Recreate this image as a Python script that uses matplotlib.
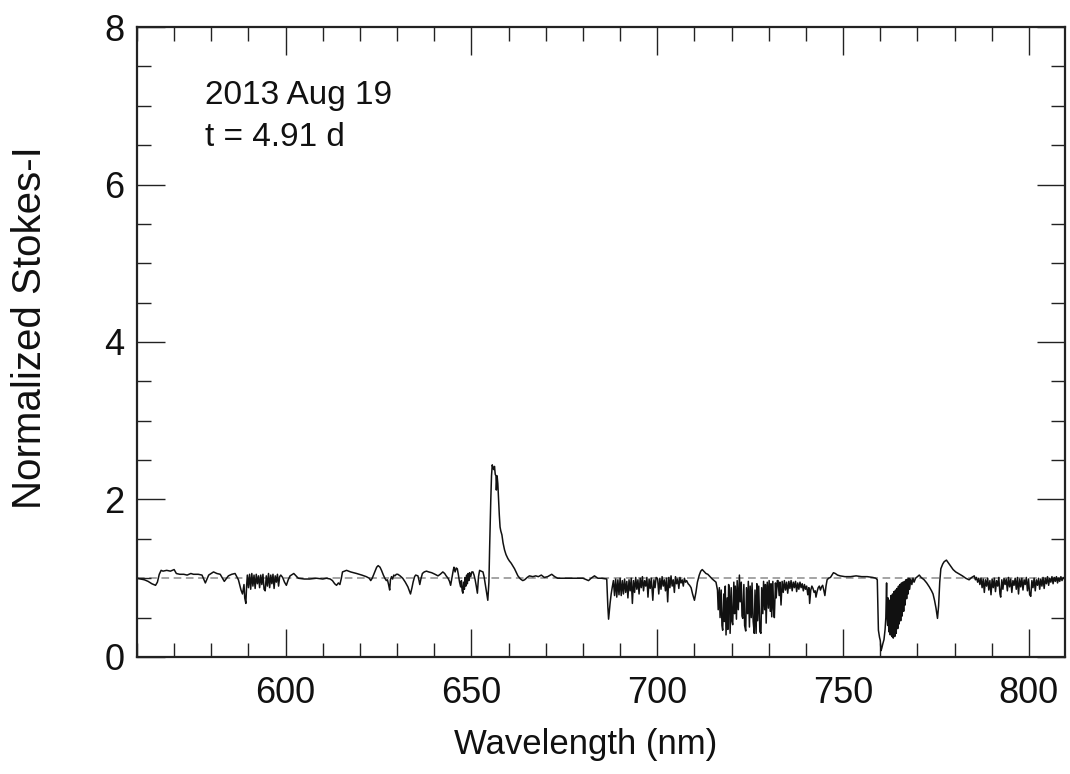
import numpy as np
import matplotlib
matplotlib.use("Agg")
import matplotlib.pyplot as plt
from matplotlib import font_manager
from matplotlib.ticker import MultipleLocator

# ---------------- data ----------------
wl_a = [560, 561, 562, 563, 564, 565, 565.5, 566, 566.5, 567, 568, 569, 570, 570.6, 571.5,
        572.6, 573.5, 574.5, 575.2, 576.5, 577.5, 578.4, 579.3, 580.6, 581.5, 582.4, 583.5,
        584.6, 585.5, 586.4, 587.3]
fl_a = [1.0, 0.99, 0.98, 0.96, 0.93, 0.91, 0.95, 1.05, 1.10, 1.09, 1.10, 1.09, 1.11, 1.06, 1.05,
        1.05, 1.04, 1.06, 1.05, 1.05, 1.04, 0.94, 1.04, 1.08, 1.06, 1.05, 0.96,
        1.03, 1.05, 1.06, 0.98]

wl_b = [588.0, 588.4, 588.8, 589.0, 589.3, 589.5, 589.7, 590.0, 590.3, 590.6, 590.9, 591.2,
        591.5, 591.8, 592.1, 592.4, 592.7, 593.0, 593.3, 593.6, 593.9, 594.2, 594.5, 594.8,
        595.1, 595.4, 595.7, 596.0, 596.3, 596.6, 596.9, 597.2, 597.5, 597.8, 598.1, 598.4,
        598.7, 599.2, 599.7, 600.2, 600.7, 601.2]
fl_b = [0.85, 0.80, 0.92, 0.75, 0.68, 0.90, 1.04, 0.88, 1.05, 0.86, 1.06, 0.90,
        1.04, 0.87, 1.05, 0.93, 1.03, 0.88, 1.04, 0.92, 1.05, 0.86, 0.84, 1.03,
        0.90, 1.06, 0.88, 1.04, 0.93, 1.05, 0.87, 1.03, 0.95, 1.05, 0.90, 1.02,
        1.04, 1.01, 0.95, 0.91, 0.98, 1.03]

wl_c = [602.2, 603.4, 605, 606.5, 608.3, 610, 611.0, 612.0, 612.6, 613.2, 613.7, 614.2, 614.6,
        615.0, 615.3, 616.4, 617.5, 619.1, 620.5, 621.7, 622.5, 622.9, 623.3, 624.0, 624.5,
        624.9, 625.4, 625.8, 626.3, 626.7, 627.1, 627.4, 627.7, 628.0, 628.2, 628.5, 628.8,
        629.1, 629.4, 629.8, 630.2, 630.8, 631.5, 632.2, 632.9, 633.3, 633.6, 634.0, 634.3,
        634.7, 635.0, 635.6, 635.9, 636.1, 636.4, 636.8, 637.3, 637.9, 638.5, 639.3, 640.2,
        641.0, 641.6, 642.3, 642.8, 643.2, 643.7, 644.1, 644.4]
fl_c = [1.06, 1.0, 0.99, 0.99, 1.0, 0.99, 1.0, 0.99, 0.97, 0.93, 0.91, 0.94, 0.92,
        1.0, 1.08, 1.10, 1.08, 1.06, 1.04, 1.02, 1.0, 0.97, 1.0, 1.08, 1.14,
        1.16, 1.14, 1.10, 1.04, 1.0, 0.97, 0.98, 0.92, 0.85, 0.98, 1.02, 0.99,
        1.04, 1.03, 1.05, 1.05, 1.03, 1.0, 0.95, 0.89, 0.84, 0.80, 0.88, 0.95,
        1.02, 1.04, 1.03, 0.97, 0.92, 0.99, 1.06, 1.08, 1.09, 1.08, 1.07, 1.05,
        1.03, 1.05, 1.08, 1.06, 1.03, 1.0, 0.96, 0.91]

wl_d = [644.8, 645.1, 645.3, 645.6, 645.9, 646.2, 646.5, 646.8, 647.1, 647.3, 647.5, 647.7,
        647.9, 648.1, 648.3, 648.5, 648.7, 648.9, 649.1, 649.3, 649.5, 649.8, 650.1, 650.4,
        650.7, 651.0, 651.3, 651.6, 651.9, 652.2, 652.6, 653.1, 653.4, 653.7, 654.0, 654.4,
        654.7, 654.9, 655.2, 655.4, 655.6, 655.8, 656.0, 656.2, 656.4, 656.6, 656.7, 656.9,
        657.1, 657.3, 657.5, 657.7, 657.9, 658.2, 658.5, 658.9, 659.3, 659.8, 660.2, 660.7,
        661.1, 661.6, 662.0, 662.5, 663.2, 663.8, 664.3, 665.0, 665.6, 666.5, 667.3, 668.0,
        668.8, 669.6, 670.5, 671.6, 672.4, 673.2, 675, 676.9, 678.5, 680.0, 681.0, 681.5,
        682.2, 683.1, 684.0, 685.0, 686.4, 686.7, 686.9, 687.3, 687.6, 687.9]
fl_d = [1.02, 1.10, 1.14, 1.08, 1.13, 1.12, 1.04, 0.95, 0.89, 0.97, 0.84, 0.81,
        0.95, 0.86, 1.01, 0.90, 1.04, 0.93, 1.06, 0.97, 1.07, 1.02, 1.08, 1.08,
        1.04, 0.98, 0.90, 0.81, 1.02, 1.10, 1.09, 1.08, 1.02, 0.93, 0.84, 0.72,
        0.95, 1.40, 1.99, 2.30, 2.44, 2.40, 2.38, 2.42, 2.32, 2.30, 2.12, 2.30,
        2.20, 1.99, 1.80, 1.65, 1.60, 1.55, 1.45, 1.36, 1.30, 1.25, 1.22, 1.19,
        1.16, 1.12, 1.08, 1.03, 0.99, 0.97, 0.98, 1.01, 1.03, 1.02, 1.03, 1.02,
        1.04, 1.01, 1.02, 1.05, 1.02, 1.0, 1.0, 1.0, 1.0, 1.0, 0.98, 0.97,
        1.0, 1.03, 1.0, 1.0, 0.99, 0.64, 0.48, 0.68, 0.80, 0.89]

wl_e = [688.2, 688.5, 688.8, 689.1, 689.4, 689.7, 690.0, 690.3, 690.6, 690.9, 691.2, 691.5,
        691.8, 692.1, 692.4, 692.7, 693.0, 693.3, 693.6, 693.9, 694.2, 694.5, 694.8, 695.1,
        695.4, 695.7, 696.0, 696.3, 696.6, 696.9, 697.2, 697.5, 697.8, 698.1, 698.4, 698.8,
        699.1, 699.4, 699.7, 700.1, 700.4, 700.7, 701.0, 701.3, 701.6, 701.9, 702.2, 702.5,
        702.8, 703.1, 703.4, 703.7, 704.0, 704.3, 704.6, 704.9, 705.2, 705.5, 705.8, 706.1,
        706.4, 706.7, 707.0, 707.3, 707.6, 707.9, 708.3, 708.7, 709.1, 709.5, 710.0, 710.4,
        710.8, 711.3, 711.7, 712.1, 712.5, 713.1, 713.6, 714.2, 714.8, 715.3, 715.8, 716.2]
fl_e = [0.97, 0.78, 0.99, 0.76, 0.98, 0.79, 1.0, 0.78, 0.97, 0.80, 0.99, 0.82,
        0.96, 0.75, 0.98, 0.84, 1.0, 0.68, 0.97, 0.82, 1.01, 0.86, 0.98, 0.80,
        1.0, 0.88, 1.02, 0.84, 0.97, 0.90, 1.01, 0.76, 0.99, 0.87, 1.0, 0.72,
        0.98, 0.88, 1.01, 0.99, 0.80, 1.0, 0.86, 1.02, 0.90, 0.98, 0.84, 1.0,
        0.70, 1.01, 0.88, 1.03, 0.90, 0.98, 0.82, 1.02, 0.93, 0.99, 0.87, 1.01,
        0.94, 0.98, 0.90, 1.0, 0.95, 0.97, 0.93, 0.91, 0.88, 0.80, 0.72, 0.82,
        0.95, 1.04, 1.09, 1.11, 1.09, 1.06, 1.05, 1.02, 0.99, 0.97, 0.95, 0.85]

wl_f = [716.4, 716.7, 716.9, 717.2, 717.4, 717.6, 717.9, 718.1, 718.3, 718.5, 718.8, 719.0,
        719.2, 719.4, 719.6, 719.9, 720.1, 720.3, 720.6, 720.8, 721.0, 721.3, 721.5, 721.8,
        722.1, 722.3, 722.6, 722.8, 723.0, 723.3, 723.5, 723.8, 724.0, 724.3, 724.5, 724.8,
        725.0, 725.3, 725.5, 725.8, 726.1, 726.3, 726.6, 726.8, 727.0, 727.3, 727.6, 727.9,
        728.1, 728.4, 728.6, 728.9, 729.1, 729.3, 729.6, 729.9, 730.1, 730.4, 730.6, 730.8,
        731.1, 731.3, 731.5, 731.8, 732.0, 732.3, 732.5, 732.8, 733.0, 733.3, 733.6, 733.9,
        734.2, 734.5, 734.8, 735.1, 735.4, 735.7, 736.0, 736.3, 736.6, 736.9, 737.2, 737.5,
        737.8, 738.1, 738.4, 738.7, 739.0, 739.3, 739.6, 739.9, 740.2, 740.5, 740.8, 741.0,
        741.3, 741.6, 741.9, 742.2, 742.5, 742.7, 743.0, 743.3, 743.6, 743.9, 744.2, 744.5,
        744.8, 745.1, 745.4, 745.7, 746.1, 746.6, 747.0, 747.4, 747.9, 748.5]
fl_f = [0.60, 0.88, 0.50, 0.85, 0.40, 0.34, 0.80, 0.45, 0.90, 0.28, 0.75, 0.35,
        0.92, 0.85, 0.30, 0.88, 0.45, 0.41, 0.95, 0.55, 0.90, 0.48, 0.97, 0.60,
        1.04, 0.70, 0.95, 0.52, 0.49, 0.92, 0.40, 0.33, 0.88, 0.55, 0.96, 0.38,
        0.90, 0.50, 0.94, 0.45, 0.30, 0.85, 0.30, 0.93, 0.46, 0.90, 0.32, 0.30,
        0.88, 0.55, 0.96, 0.60, 0.92, 0.43, 0.95, 0.62, 0.97, 0.58, 0.93, 0.51,
        0.96, 0.60, 0.50, 0.94, 0.75, 0.97, 0.97, 0.78, 0.95, 0.66, 0.96, 0.82,
        0.97, 0.85, 0.95, 0.81, 0.96, 0.87, 0.97, 0.84, 0.95, 0.88, 0.96, 0.83,
        0.94, 0.86, 0.95, 0.88, 0.93, 0.84, 0.92, 0.86, 0.90, 0.79, 0.88, 0.68,
        0.85, 0.90, 0.87, 0.82, 0.84, 0.76, 0.83, 0.88, 0.90, 0.85, 0.89, 0.91,
        0.85, 0.78, 0.90, 0.98, 1.0, 1.01, 1.04, 1.07, 1.06, 1.04]

wl_g = [749.2, 750.5, 752, 753.5, 755, 756.5, 758, 758.8, 759.2, 759.5, 759.8, 760.0, 760.2,
        760.4, 760.7, 761.0, 761.3, 761.5, 761.7, 761.8, 762.0, 762.1, 762.3, 762.5, 762.7,
        762.9, 763.1, 763.3, 763.5, 763.7, 763.9, 764.1, 764.3, 764.5, 764.7, 764.9, 765.1,
        765.3, 765.5, 765.7, 765.9, 766.1, 766.3, 766.5, 766.7, 766.9, 767.1, 767.3, 767.5,
        767.7, 767.9, 768.2, 768.5, 768.8, 769.1, 769.5, 770.0, 770.5, 771.0, 771.8, 772.5,
        773.2, 773.8, 774.2, 774.6, 775.0, 775.4, 775.7, 776.0, 776.3, 776.8, 777.2, 777.8,
        778.4, 779.0, 779.6, 780.3, 781.0, 782.1, 783.0, 783.9, 784.6, 785.3]
fl_g = [1.03, 1.02, 1.02, 1.03, 1.02, 1.02, 1.01, 1.0, 0.98, 0.34, 0.25, 0.21, 0.08,
        0.11, 0.17, 0.22, 0.35, 0.50, 0.94, 0.55, 0.40, 0.75, 0.32, 0.72, 0.28,
        0.78, 0.26, 0.80, 0.24, 0.83, 0.26, 0.85, 0.30, 0.87, 0.36, 0.90, 0.42,
        0.92, 0.46, 0.94, 0.52, 0.95, 0.58, 0.96, 0.66, 0.98, 0.74, 0.99, 0.80,
        1.0, 0.86, 0.99, 0.92, 1.0, 0.95, 1.0, 1.02, 1.04, 1.01, 0.98, 0.94,
        0.89, 0.84, 0.80, 0.72, 0.62, 0.49, 0.65, 0.95, 1.12, 1.18, 1.21, 1.23,
        1.19, 1.15, 1.11, 1.08, 1.06, 1.03, 1.0, 0.98, 1.01, 1.03]

wl_h = [785.6, 785.9, 786.2, 786.5, 786.8, 787.1, 787.4, 787.7, 788.0, 788.3, 788.6, 788.9,
        789.2, 789.5, 789.8, 790.1, 790.4, 790.7, 791.0, 791.3, 791.6, 791.9, 792.2, 792.4,
        792.7, 793.0, 793.3, 793.6, 793.9, 794.2, 794.5, 794.8, 795.1, 795.4, 795.7, 796.0,
        796.3, 796.6, 796.9, 797.2, 797.5, 797.8, 798.1, 798.4, 798.7, 799.0, 799.3, 799.6,
        799.9, 800.2, 800.5, 800.8, 801.1, 801.4, 801.7, 802.0, 802.3, 802.6, 802.9, 803.2,
        803.5, 803.8, 804.1, 804.4, 804.7, 805.0, 805.3, 805.6, 805.9, 806.2, 806.5, 806.8,
        807.1, 807.4, 807.7, 808.0, 808.3, 808.6, 808.9, 809.2, 809.7]
fl_h = [0.98, 1.01, 0.95, 1.0, 0.92, 1.0, 0.88, 0.99, 0.82, 0.98, 0.90, 1.0,
        0.85, 0.97, 0.79, 0.99, 0.88, 1.0, 0.83, 0.97, 0.90, 1.01, 0.80, 0.76,
        0.98, 0.86, 1.0, 0.92, 0.99, 0.84, 1.01, 0.89, 0.99, 0.82, 0.97, 0.91,
        1.0, 0.86, 1.01, 0.80, 0.99, 0.89, 1.0, 0.85, 0.98, 0.92, 1.01, 0.84,
        0.99, 0.79, 0.77, 0.97, 0.88, 1.0, 0.84, 0.98, 0.91, 1.0, 0.86, 0.99,
        0.90, 1.01, 0.87, 1.0, 0.93, 1.02, 0.91, 1.0, 0.95, 1.02, 0.93, 1.01,
        0.96, 1.02, 0.94, 1.0, 0.96, 1.02, 0.97, 1.01, 0.99]

x_ticks = [600, 650, 700, 750, 800]
y_ticks = [0, 2, 4, 6, 8]
x_limits = (560, 809.7)
y_limits = (0, 8)
continuum_level = 1.0
date_label = "2013 Aug 19"
time_label = "t = 4.91 d"
x_title = "Wavelength (nm)"
y_title = "Normalized Stokes-I"

wavelength = np.concatenate([wl_a, wl_b, wl_c, wl_d, wl_e, wl_f, wl_g, wl_h])
flux = np.concatenate([fl_a, fl_b, fl_c, fl_d, fl_e, fl_f, fl_g, fl_h])

# ---------------- fonts ----------------
names = {f.name for f in font_manager.fontManager.ttflist}
base = "Liberation Sans" if "Liberation Sans" in names else "DejaVu Sans"
plt.rcParams["font.family"] = [base, "DejaVu Sans"]
ink = "#111111"

# ---------------- figure ----------------
fig = plt.figure(figsize=(10.70, 7.74), dpi=100)
ax = fig.add_axes([0.128, 0.1512, 0.8673, 0.8139])

ax.plot(wavelength, flux, color=ink, lw=1.1)
ax.axhline(continuum_level, color="#8c8c8c", lw=1.1, ls=(0, (5, 3)), zorder=1)

ax.set_xlim(*x_limits)
ax.set_ylim(*y_limits)
ax.xaxis.set_minor_locator(MultipleLocator(10))
ax.yaxis.set_minor_locator(MultipleLocator(0.5))
ax.set_xticks(x_ticks)
ax.set_yticks(y_ticks)

ax.tick_params(which="both", direction="in", top=True, right=True, color="#222222")
ax.tick_params(which="major", length=20, width=1.0)
ax.tick_params(axis="x", which="major", pad=14)
ax.tick_params(axis="y", which="major", pad=9)
ax.tick_params(which="minor", length=10, width=1.0)
for lab in ax.get_xticklabels() + ax.get_yticklabels():
    lab.set_fontsize(26)
    lab.set_color(ink)

for sp in ax.spines.values():
    sp.set_linewidth(1.6)
    sp.set_color("#222222")

ax.set_xlabel(x_title, fontsize=25, color=ink)
ax.xaxis.set_label_coords(0.483, -0.112)
ax.xaxis.label.set_va("top")
ax.set_ylabel(y_title, fontsize=29, color=ink)
ax.yaxis.set_label_coords(-0.095, 0.523)

ax.text(0.073, 0.878, date_label, transform=ax.transAxes, fontsize=24,
        color=ink, va="baseline", ha="left")
ax.text(0.073, 0.811, time_label, transform=ax.transAxes, fontsize=24,
        color=ink, va="baseline", ha="left")

fig.savefig("out.png", dpi=100)
